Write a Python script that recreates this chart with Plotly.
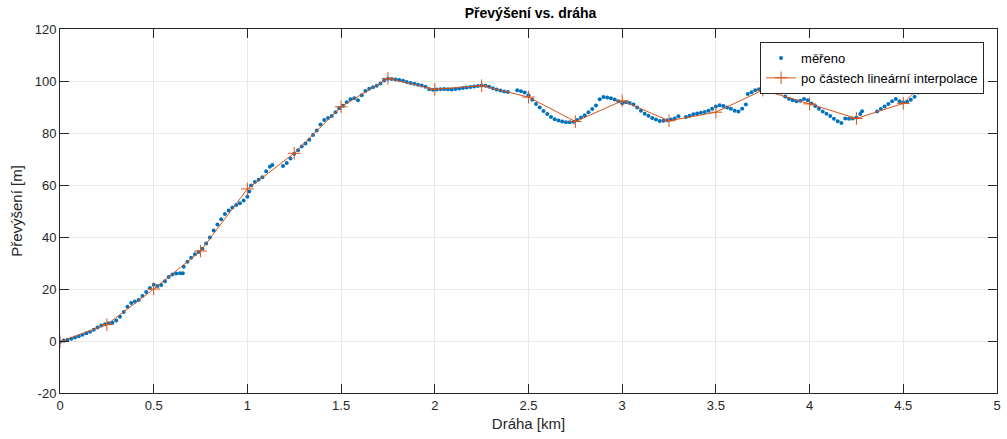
import plotly.graph_objects as go

# measured data (km, m)
meas_x = [0.00, 0.02, 0.04, 0.06, 0.08, 0.10, 0.12, 0.14, 0.16, 0.18, 0.20, 0.22, 0.24, 0.26, 0.28,
          0.30, 0.32, 0.34, 0.36, 0.38, 0.40, 0.42, 0.44, 0.46, 0.48, 0.50, 0.52, 0.54, 0.56, 0.58,
          0.60, 0.62, 0.64, 0.655,
          0.66, 0.68, 0.70, 0.72, 0.74, 0.76, 0.78, 0.80, 0.82, 0.84, 0.86, 0.88, 0.90, 0.92, 0.94,
          0.96, 0.98, 1.00, 1.01, 1.02, 1.04, 1.06, 1.08, 1.10, 1.12, 1.133,
          1.19, 1.21, 1.23, 1.25, 1.27, 1.29, 1.31, 1.33, 1.35, 1.37, 1.39, 1.41, 1.43, 1.45, 1.47,
          1.49, 1.51, 1.53, 1.55, 1.57, 1.59, 1.61, 1.63, 1.65, 1.67, 1.69, 1.71, 1.73, 1.75, 1.77,
          1.79, 1.81, 1.83, 1.85, 1.87, 1.89, 1.91, 1.93, 1.95, 1.97, 1.99, 2.01, 2.03, 2.05, 2.07,
          2.09, 2.11, 2.13, 2.15, 2.17, 2.19, 2.21, 2.23, 2.25, 2.27, 2.29, 2.31, 2.33, 2.35, 2.37,
          2.39,
          2.44, 2.46, 2.48, 2.50, 2.52, 2.54, 2.56, 2.58, 2.60, 2.62, 2.64, 2.66, 2.68, 2.70, 2.72,
          2.74, 2.76, 2.78, 2.80, 2.82, 2.84, 2.86, 2.88, 2.90, 2.92, 2.94, 2.96, 2.98, 3.00, 3.02,
          3.04, 3.06, 3.08, 3.10, 3.12, 3.14, 3.16, 3.18, 3.20, 3.22, 3.24, 3.26, 3.28, 3.30,
          3.34, 3.36, 3.38, 3.40, 3.42, 3.44, 3.46, 3.48, 3.50, 3.52, 3.54, 3.56, 3.58, 3.60, 3.62,
          3.64, 3.66,
          3.67, 3.69, 3.71, 3.73, 3.75, 3.77, 3.79, 3.81, 3.83, 3.85, 3.87, 3.89, 3.91, 3.93, 3.95,
          3.97, 3.99, 4.01, 4.03, 4.05, 4.07, 4.09, 4.11, 4.13, 4.15, 4.17,
          4.19, 4.21, 4.23, 4.25, 4.27, 4.28,
          4.36, 4.38, 4.40, 4.42, 4.44, 4.46, 4.48, 4.50, 4.52, 4.54, 4.56, 4.58, 4.60, 4.62, 4.64]
meas_y = [-0.3, 0.2, 0.5, 0.9, 1.3, 1.8, 2.4, 3.0, 3.6, 4.3, 5.2, 6.0, 6.4, 6.8, 7.0,
          7.9, 9.3, 11.2, 13.2, 14.6, 15.2, 15.8, 17.3, 18.8, 20.4, 21.6, 21.2, 21.5, 23.0, 24.6,
          25.6, 26.0, 26.1, 26.1,
          28.6, 30.5, 32.0, 33.4, 34.2, 35.5, 37.5, 39.8, 42.5, 44.8, 46.8, 48.8, 50.2, 51.3, 52.3,
          53.0, 54.0, 55.5, 57.5, 59.8, 61.2, 62.0, 63.0, 65.3, 67.0, 67.7,
          67.3, 68.5, 70.2, 72.0, 73.4, 74.8, 76.0, 77.4, 79.2, 81.0, 83.3, 85.0, 85.8, 86.5, 88.0,
          89.5, 90.5, 91.8, 93.0, 93.4, 92.6, 94.5, 96.2, 97.0, 97.6, 98.2, 99.0, 100.2, 100.9, 100.8,
          100.6, 100.4, 100.1, 99.6, 99.2, 98.9, 98.6, 98.3, 97.8, 96.8, 96.6, 96.7, 96.8, 96.9, 96.8,
          96.7, 96.9, 97.1, 97.3, 97.5, 97.7, 97.9, 98.1, 98.3, 98.2, 97.8, 97.2, 96.7, 96.3, 96.0,
          95.8,
          96.4, 96.1, 95.6, 94.5, 92.8, 91.2, 89.8, 88.5, 87.3, 86.2, 85.3, 84.8, 84.4, 84.1, 84.1,
          84.3, 85.0, 86.0, 86.8, 88.0, 89.2, 90.6, 93.0, 93.8, 93.7, 93.4, 92.9, 92.2, 91.4, 91.8,
          91.5, 91.0, 89.8, 88.6, 87.4, 86.6, 85.8, 85.2, 84.6, 84.7, 84.9, 85.2, 85.6, 86.4,
          86.2, 86.6, 87.2, 87.5, 87.8, 88.1, 88.6, 89.3, 90.2, 90.7, 90.4, 89.8, 89.3, 88.6, 88.3,
          89.3, 91.0,
          95.0, 95.7, 96.4, 96.8, 97.0, 97.4, 97.8, 98.0, 97.6, 95.6, 94.0, 93.2, 92.6, 92.2, 92.4,
          93.1, 92.6, 91.3, 90.4, 89.3, 88.3, 87.4, 86.5, 85.5, 84.5, 83.8,
          85.6, 85.5, 85.6, 86.0, 87.3, 88.4,
          88.3, 89.2, 90.2, 91.2, 92.2, 93.1, 92.2, 91.7, 92.0, 92.8, 93.9, 95.6, 98.0, 100.2, 102.0]

# piecewise linear interpolation nodes
interp_x = [0.0, 0.25, 0.5, 0.75, 1.0, 1.25, 1.5, 1.75, 2.0, 2.25, 2.5, 2.75, 3.0, 3.25,
            3.5, 3.75, 4.0, 4.25, 4.5, 4.66]
interp_y = [-0.3, 6.3, 20.0, 34.6, 58.5, 72.2, 90.1, 101.0, 96.8, 98.2, 93.8, 84.4, 92.4, 84.7,
            88.0, 96.5, 91.2, 85.6, 91.4, 103.0]

x_ticks = [0, 0.5, 1, 1.5, 2, 2.5, 3, 3.5, 4, 4.5, 5]
x_tick_text = ["0", "0.5", "1", "1.5", "2", "2.5", "3", "3.5", "4", "4.5", "5"]
y_ticks = [-20, 0, 20, 40, 60, 80, 100, 120]
y_tick_text = ["-20", "0", "20", "40", "60", "80", "100", "120"]

BLUE = "#0072BD"
ORANGE = "#D95319"
AX = "#262626"
FONT = "Liberation Sans, Arial, sans-serif"

fig = go.Figure()
fig.add_trace(go.Scatter(
    x=meas_x, y=meas_y, mode="markers", name="měřeno",
    marker=dict(color=BLUE, size=4, line=dict(width=0)),
))
fig.add_trace(go.Scatter(
    x=interp_x, y=interp_y, mode="lines+markers", name="po částech lineární interpolace",
    line=dict(color=ORANGE, width=1),
    marker=dict(symbol="cross-thin", size=9, color=ORANGE, line=dict(color=ORANGE, width=1)),
))

axis_common = dict(
    showline=True, linecolor=AX, linewidth=1, mirror="ticks",
    ticks="inside", ticklen=9, tickwidth=1, tickcolor=AX,
    showgrid=True, gridcolor="#e8e8e8", gridwidth=1,
    zeroline=False,
    tickfont=dict(family=FONT, size=13, color=AX),
)

fig.update_layout(
    width=1007, height=439,
    margin=dict(l=60, r=6, t=29, b=46),
    paper_bgcolor="white", plot_bgcolor="white",
    font=dict(family=FONT, color=AX),
    title=dict(text="<b>Převýšení vs. dráha</b>", x=(60 + 1001) / 2 / 1007, xanchor="center",
               y=1 - 13 / 439, yanchor="middle", font=dict(family=FONT, size=14, color="#000000")),
    xaxis=dict(range=[0, 5], tickvals=x_ticks, ticktext=x_tick_text,
               title=dict(text="Dráha [km]", font=dict(family=FONT, size=15, color=AX), standoff=6),
               **axis_common),
    yaxis=dict(range=[-20, 120], tickvals=y_ticks, ticktext=y_tick_text,
               title=dict(text="Převýšení [m]", font=dict(family=FONT, size=15, color=AX), standoff=8),
               **axis_common),
    legend=dict(x=(988 - 60) / 941, xanchor="right", y=(393 - 42) / 364, yanchor="top",
                bgcolor="white", bordercolor=AX, borderwidth=1,
                font=dict(family=FONT, size=13, color="#000000"),
                tracegroupgap=0, itemwidth=30),
    showlegend=True,
)

fig.write_html("out.html")
